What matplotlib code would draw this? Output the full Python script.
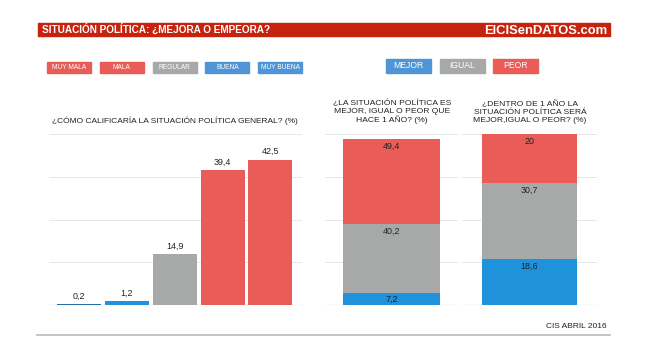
import matplotlib.pyplot as plt
from matplotlib.patches import Rectangle

plt.rcParams['font.family'] = ['Liberation Sans', 'DejaVu Sans']

# Data
general_cats = ['MUY BUENA', 'BUENA', 'REGULAR', 'MALA', 'MUY MALA']
general_vals = [0.2, 1.2, 14.9, 39.4, 42.5]

stack_cats = ['MEJOR', 'IGUAL', 'PEOR']
hace_un_ano = [7.2, 40.2, 49.4]
dentro_un_ano = [18.6, 30.7, 20]

RED = '#e95c57'
GRAY = '#a6a9a7'
BLUE = '#1e93dc'
DARKBLUE = '#1a6fa8'
LEG_BLUE = '#4f95d6'
HEAD_RED = '#c5230e'

W, H = 648, 364
fig = plt.figure(figsize=(W / 100, H / 100), dpi=100)


def px_axes(x0, y0, x1, y1):
    return fig.add_axes([x0 / W, 1 - y1 / H, (x1 - x0) / W, (y1 - y0) / H])


def style(ax, ymax):
    for s in ax.spines.values():
        s.set_visible(False)
    ax.set_xticks([])
    ax.set_yticks([])
    for g in [ymax * k / 4 for k in range(1, 5)]:
        ax.axhline(g, color='#e3e3e3', lw=0.6, zorder=0)
    ax.axhline(0, color='#999999', lw=0.8, zorder=3)


# header bar
bg = fig.add_axes([0, 0, 1, 1])
bg.set_xlim(0, W)
bg.set_ylim(H, 0)
bg.axis('off')
bg.add_patch(Rectangle((38, 23), 572, 12.5, color=HEAD_RED, zorder=1))
bg.text(42, 33.2, 'SITUACIÓN POLÍTICA: ¿MEJORA O EMPEORA?', color='white',
        fontsize=7.2, fontweight='bold', va='baseline', ha='left')
bg.text(607, 34.2, 'ElCISenDATOS.com', color='white', fontsize=9.4,
        fontweight='bold', va='baseline', ha='right')

# legends
left_leg = [('MUY MALA', RED), ('MALA', RED), ('REGULAR', GRAY),
            ('BUENA', LEG_BLUE), ('MUY BUENA', LEG_BLUE)]
for i, (lab, c) in enumerate(left_leg):
    x = 47 + i * 52.8
    bg.add_patch(Rectangle((x, 62), 44, 11, color=c))
    bg.text(x + 22, 67.5, lab, color='white', fontsize=4.8, ha='center', va='center')

right_leg = [('MEJOR', LEG_BLUE), ('IGUAL', GRAY), ('PEOR', RED)]
for i, (lab, c) in enumerate(right_leg):
    x = 386 + i * 53.5
    bg.add_patch(Rectangle((x, 59), 45, 14, color=c))
    bg.text(x + 22.5, 66, lab, color='white', fontsize=6.2, ha='center', va='center')

# titles
bg.text(175, 121, '¿CÓMO CALIFICARÍA LA SITUACIÓN POLÍTICA GENERAL? (%)',
        fontsize=6.0, ha='center', va='center', color='#222222')
bg.text(392, 112, '¿LA SITUACIÓN POLÍTICA ES\nMEJOR, IGUAL O PEOR QUE\nHACE 1 AÑO? (%)',
        fontsize=6.1, ha='center', va='center', color='#222222', linespacing=1.15)
bg.text(530, 112, '¿DENTRO DE 1 AÑO LA\nSITUACIÓN POLÍTICA SERÁ\nMEJOR,IGUAL O PEOR? (%)',
        fontsize=6.1, ha='center', va='center', color='#222222', linespacing=1.15)

# footer
bg.plot([37, 610], [335, 335], color='#bbbbbb', lw=1.2)
bg.text(607, 327, 'CIS ABRIL 2016', fontsize=6, ha='right', va='center', color='#222222')

# left bar chart
ax1 = px_axes(49, 134, 302, 305)
style(ax1, 50)
bar_colors = [DARKBLUE, BLUE, GRAY, RED, RED]
xs = range(len(general_vals))
ax1.bar(xs, general_vals, width=0.92, color=bar_colors, zorder=2)
for x, v in zip(xs, general_vals):
    ax1.text(x, v + 1.0, f'{v:.1f}'.replace('.', ','), ha='center', va='bottom',
             fontsize=6.4, color='#222222')
ax1.set_xlim(-0.63, 4.66)
ax1.set_ylim(0, 50)


def stacked(ax, vals, normalize):
    style(ax, 100)
    total = sum(vals) if normalize else 100
    colors = [BLUE, GRAY, RED]
    bottom = 0
    for v, c in zip(vals, colors):
        h = v / total * 100
        ax.bar(0, h, bottom=bottom, width=1.0, color=c, zorder=2)
        lab = f'{v:g}'.replace('.', ',')
        ax.text(0, bottom + h - 1.5, lab, ha='center', va='top', fontsize=6.4,
                color='#222222', zorder=4)
        bottom += h
    ax.set_ylim(0, 100)


ax2 = px_axes(325, 134, 458, 305)
stacked(ax2, hace_un_ano, False)
ax2.set_xlim(-0.69, 0.69)

# second stack is drawn as shares of its visible total
ax3 = px_axes(462, 134, 597, 305)
stacked(ax3, dentro_un_ano, True)
ax3.set_xlim(-0.71, 0.71)

fig.savefig('out.png', dpi=100)
